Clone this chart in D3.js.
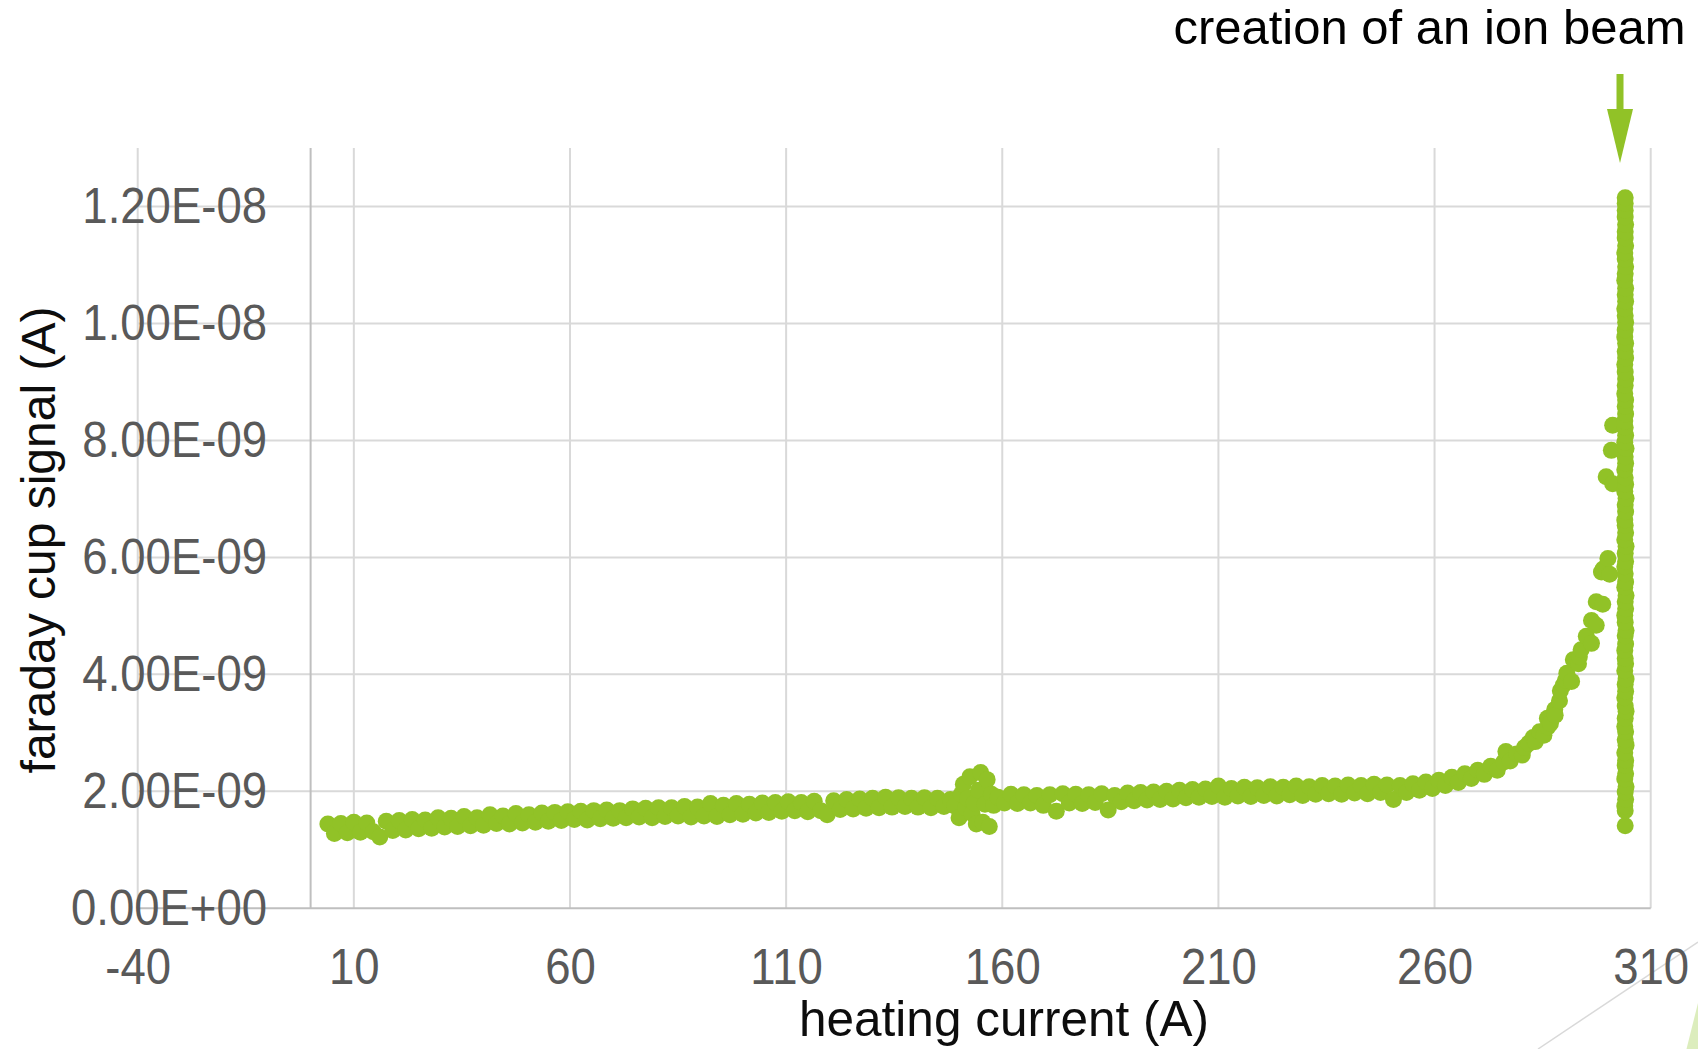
<!DOCTYPE html>
<html>
<head>
<meta charset="utf-8">
<script src="https://cdn.jsdelivr.net/npm/d3@7"></script>
<style>
  body { margin: 0; background: #ffffff; }
  svg { display: block; }
</style>
</head>
<body>
<svg id="chart" width="1698" height="1049"></svg>
<script>
// ---------------- DATA ----------------
// heating current axis ticks (A)
const heatingTicks = [-40, 10, 60, 110, 160, 210, 260, 310];
const heatingTickLabels = ["-40", "10", "60", "110", "160", "210", "260", "310"];
// faraday cup signal axis ticks, in units of 1e-9 A
const signalTicks = [0, 2, 4, 6, 8, 10, 12];
const signalTickLabels = ["0.00E+00", "2.00E-09", "4.00E-09", "6.00E-09", "8.00E-09", "1.00E-08", "1.20E-08"];

// scan points: [heating current (A), faraday cup signal (1e-9 A)]
const scanPoints = [
  [4,1.44],[5.5,1.28],[7,1.45],[8.5,1.29],[10,1.47],[11.5,1.30],[13,1.46],[14.5,1.31],[16,1.22],[17.5,1.49],
  [19,1.33],[20.5,1.50],[22,1.34],[23.5,1.52],[25,1.36],[26.5,1.51],[28,1.37],[29.5,1.55],[31,1.39],[32.5,1.54],
  [34,1.40],[35.5,1.57],[37,1.41],[38.5,1.55],[40,1.42],[41.5,1.60],[43,1.45],[44.5,1.58],[46,1.44],[47.5,1.62],
  [49,1.46],[50.5,1.60],[52,1.47],[53.5,1.63],[55,1.49],[56.5,1.64],[58,1.50],[59.5,1.65],[61,1.52],[62.5,1.66],
  [64,1.51],[65.5,1.67],[67,1.53],[68.5,1.68],[70,1.54],[71.5,1.67],[73,1.55],[74.5,1.70],[76,1.56],[77.5,1.71],
  [79,1.55],[80.5,1.72],[82,1.57],[83.5,1.72],[85,1.58],[86.5,1.74],[88,1.56],[89.5,1.73],[91,1.58],[92.5,1.79],
  [94,1.57],[95.5,1.76],[97,1.60],[98.5,1.79],[100,1.61],[101.5,1.78],[103,1.63],[104.5,1.80],[106,1.64],[107.5,1.81],
  [109,1.66],[110.5,1.82],[112,1.67],[113.5,1.81],[115,1.65],[116.5,1.83],[118,1.67],[119.5,1.60],[121,1.84],[122.5,1.69],
  [124,1.86],[125.5,1.70],[127,1.87],[128.5,1.71],[130,1.88],[131.5,1.72],[133,1.90],[134.5,1.73],[136,1.89],[137.5,1.74],
  [139,1.88],[140.5,1.73],[142,1.89],[143.5,1.72],[145,1.88],[146.5,1.74],[148,1.86],[149,1.75],[150,1.55],[150.5,1.95],
  [151,2.12],[151.5,1.72],[152,1.88],[152.5,2.25],[153,1.62],[153.5,1.80],[154,1.44],[154.5,2.02],[155,2.32],[155.5,1.47],
  [156,1.78],[156.5,2.20],[157,1.40],[157.5,1.95],[158,1.76],[159,1.90],[160.5,1.80],[162,1.95],[163.5,1.79],[165,1.94],
  [166.5,1.80],[168,1.93],[169.5,1.76],[171,1.94],[172.5,1.66],[174,1.96],[175.5,1.80],[177,1.95],[178.5,1.79],[180,1.94],
  [181.5,1.81],[183,1.96],[184.5,1.68],[186,1.93],[187.5,1.82],[189,1.97],[190.5,1.84],[192,1.98],[193.5,1.85],[195,1.99],
  [196.5,1.86],[198,2.00],[199.5,1.87],[201,2.02],[202.5,1.89],[204,2.03],[205.5,1.90],[207,2.04],[208.5,1.91],[210,2.09],
  [211.5,1.90],[213,2.05],[214.5,1.92],[216,2.07],[217.5,1.91],[219,2.06],[220.5,1.93],[222,2.08],[223.5,1.92],[225,2.07],
  [226.5,1.94],[228,2.09],[229.5,1.93],[231,2.08],[232.5,1.95],[234,2.10],[235.5,1.96],[237,2.09],[238.5,1.95],[240,2.11],
  [241.5,1.97],[243,2.10],[244.5,1.96],[246,2.12],[247.5,1.98],[249,2.11],[250.5,1.86],[252,2.10],[253.5,1.98],[255,2.13],
  [256.5,2.02],[258,2.16],[259.5,2.05],[261,2.19],[262.5,2.10],[264,2.24],[265.5,2.15],[267,2.30],[268.5,2.22],[270,2.36],
  [271.5,2.29],[273,2.43],[274.5,2.36],[276,2.50],[276.5,2.68],[277.5,2.52],[279,2.64],[280.3,2.62],[280.8,2.75],[281.8,2.82],
  [282.8,2.92],[283.3,2.85],[284.3,3.02],[285.3,2.96],[286.1,3.25],[286.2,3.10],[286.8,3.16],[287.8,3.40],[287.9,3.30],[288.9,3.55],
  [289.1,3.72],[289.8,3.82],[290.3,3.90],[290.6,4.02],[291.7,3.88],[292.1,4.25],[293.3,4.18],[293.5,4.30],[293.9,4.42],[295.1,4.65],
  [296.3,4.53],[296.3,4.92],[297.4,4.84],[297.4,5.24],[298.9,5.20],[298.6,5.75],[299.0,5.80],[300.5,5.71],[300.1,5.98],[299.7,7.38],
  [301.2,7.26],[300.9,7.83],[301.2,8.26]
];

// ion beam points at the final heating current: [heating current (A), signal (1e-9 A)]
const beamPoints = [
  [304.1,1.41],[304.1,1.67],[304.0,1.75],[304.2,1.86],[304.1,1.99],[304.3,2.08],[304.0,2.21],[304.2,2.30],[304.1,2.44],[304.2,2.53],
  [304.0,2.66],[304.3,2.79],[304.1,2.88],[304.2,3.02],[304.0,3.11],[304.1,3.25],[304.3,3.37],[304.1,3.46],[304.0,3.60],[304.2,3.71],
  [304.1,3.83],[304.3,3.92],[304.0,4.06],[304.2,4.18],[304.1,4.27],[304.0,4.41],[304.2,4.52],[304.1,4.66],[304.3,4.75],[304.1,4.89],
  [304.0,5.01],[304.2,5.12],[304.1,5.24],[304.3,5.35],[304.0,5.49],[304.2,5.58],[304.1,5.72],[304.0,5.84],[304.2,5.93],[304.1,6.07],
  [304.3,6.19],[304.0,6.30],[304.2,6.42],[304.1,6.55],[304.0,6.64],[304.2,6.78],[304.1,6.90],[304.3,7.01],[304.0,7.13],[304.2,7.25],
  [304.1,7.36],[304.0,7.50],[304.2,7.61],[304.1,7.72],[304.3,7.86],[304.0,7.97],[304.2,8.09],[304.1,8.22],[304.0,8.33],[304.2,8.45],
  [304.1,8.58],[304.2,8.69],[304.0,8.80],[304.1,8.94],[304.2,9.05],[304.1,9.17],[304.0,9.30],[304.2,9.41],[304.1,9.52],[304.2,9.66],
  [304.0,9.77],[304.1,9.89],[304.2,10.02],[304.1,10.13],[304.0,10.25],[304.2,10.38],[304.1,10.49],[304.2,10.60],[304.0,10.74],[304.1,10.85],
  [304.2,10.97],[304.1,11.10],[304.0,11.21],[304.2,11.33],[304.1,11.46],[304.1,11.57],[304.2,11.69],[304.1,11.82],[304.1,11.93],[304.1,12.05],
  [304.1,12.15]
];

const annotation = { current: 302.9, label: "creation of an ion beam" };
const xTitle = "heating current (A)";
const yTitle = "faraday cup signal (A)";

// ---------------- CHART ----------------
const svg = d3.select("#chart");
const green = "#91c227";
const gridColor = "#d9d9d9";
const axisColor = "#bfbfbf";
const labelColor = "#595959";
const fontFamily = "'Liberation Sans', Arial, Helvetica, sans-serif";

const x = d3.scaleLinear().domain([-40, 310]).range([137.7, 1650.7]);
const y = d3.scaleLinear().domain([0, 13]).range([908.3, 148]);

// slide decoration (bottom right)
svg.append("line")
  .attr("x1", 1538).attr("y1", 1049).attr("x2", 1698).attr("y2", 942)
  .attr("stroke", "#d9d9d9").attr("stroke-width", 1.5);
svg.append("path")
  .attr("d", "M1686.5,1049 L1698,1003 L1698,1049 Z")
  .attr("fill", "#dcedbd");

// horizontal gridlines
svg.append("g").selectAll("line")
  .data(signalTicks.filter(d => d > 0))
  .join("line")
  .attr("x1", x(-40)).attr("x2", x(310))
  .attr("y1", d => y(d)).attr("y2", d => y(d))
  .attr("stroke", gridColor).attr("stroke-width", 2);

// vertical gridlines
svg.append("g").selectAll("line")
  .data(heatingTicks)
  .join("line")
  .attr("x1", d => x(d)).attr("x2", d => x(d))
  .attr("y1", y(0)).attr("y2", y(13))
  .attr("stroke", gridColor).attr("stroke-width", 2);

// value axis line (crosses at heating current 0)
svg.append("line")
  .attr("x1", x(0)).attr("x2", x(0))
  .attr("y1", y(0)).attr("y2", y(13))
  .attr("stroke", axisColor).attr("stroke-width", 2);

// category axis line
svg.append("line")
  .attr("x1", x(-40)).attr("x2", x(310))
  .attr("y1", y(0)).attr("y2", y(0))
  .attr("stroke", axisColor).attr("stroke-width", 2);

// points
const pts = svg.append("g").attr("fill", green);
pts.selectAll("circle.scan")
  .data(scanPoints)
  .join("circle").attr("class", "scan")
  .attr("cx", d => x(d[0])).attr("cy", d => y(d[1])).attr("r", 8.5);
pts.selectAll("circle.beam")
  .data(beamPoints)
  .join("circle").attr("class", "beam")
  .attr("cx", d => x(d[0])).attr("cy", d => y(d[1])).attr("r", 8.5);

// x axis labels
const xAxis = d3.axisBottom(x)
  .tickValues(heatingTicks)
  .tickFormat((d, i) => heatingTickLabels[i])
  .tickSize(0).tickPadding(40);
svg.append("g")
  .attr("transform", `translate(0,${y(0)})`)
  .call(xAxis)
  .call(g => g.select(".domain").remove())
  .call(g => g.selectAll("text")
    .attr("fill", labelColor)
    .attr("font-family", fontFamily)
    .attr("font-size", 50)
    .attr("transform", "scale(0.91,1)"));

// y axis labels
const yAxis = d3.axisLeft(y)
  .tickValues(signalTicks)
  .tickFormat((d, i) => signalTickLabels[i])
  .tickSize(0).tickPadding(0);
svg.append("g")
  .attr("transform", "translate(267,0)")
  .call(yAxis)
  .call(g => g.select(".domain").remove())
  .call(g => g.selectAll("text")
    .attr("fill", labelColor)
    .attr("font-family", fontFamily)
    .attr("font-size", 50)
    .attr("transform", "scale(0.91,1)"));

// axis titles
svg.append("text")
  .attr("x", 1004).attr("y", 1036)
  .attr("text-anchor", "middle")
  .attr("font-family", fontFamily).attr("font-size", 49.5)
  .attr("fill", "#0d0d0d")
  .text(xTitle);

svg.append("text")
  .attr("transform", "translate(55,540) rotate(-90)")
  .attr("text-anchor", "middle")
  .attr("font-family", fontFamily).attr("font-size", 48)
  .attr("fill", "#0d0d0d")
  .text(yTitle);

// annotation
const ax = x(annotation.current);
svg.append("text")
  .attr("x", 1685.5).attr("y", 43.5)
  .attr("text-anchor", "end")
  .attr("font-family", fontFamily).attr("font-size", 49)
  .attr("fill", "#000000")
  .text(annotation.label);
svg.append("rect")
  .attr("x", ax - 3.5).attr("y", 74).attr("width", 7).attr("height", 37)
  .attr("fill", green);
svg.append("path")
  .attr("d", `M${ax - 13},109 L${ax + 13},109 L${ax},163 Z`)
  .attr("fill", green);
</script>
</body>
</html>
